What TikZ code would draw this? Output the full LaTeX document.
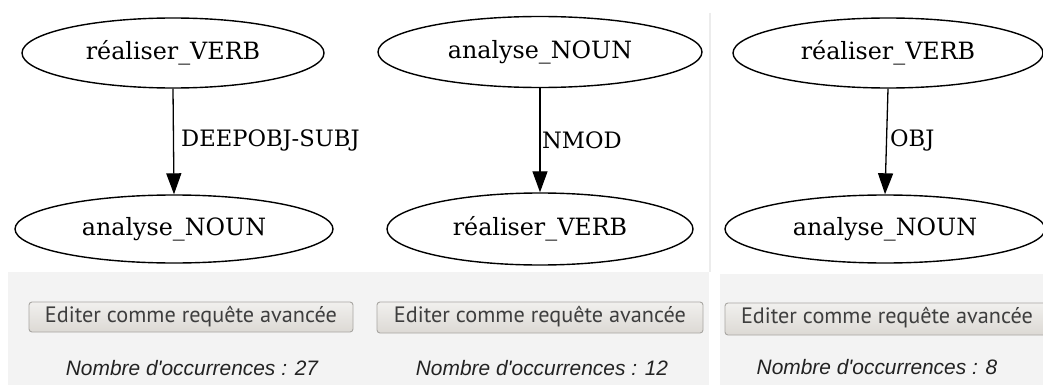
\documentclass[tikz,border=0pt]{standalone}
\usepackage{fontspec}
\setmainfont{DejaVu Serif}
\newfontfamily\uifont{PT Sans}
\newfontfamily\countfont{Liberation Sans}
\usetikzlibrary{shapes.geometric,arrows.meta}
\definecolor{panelgray}{HTML}{F3F3F3}
\definecolor{sepgray}{HTML}{ECECEC}
\definecolor{btnborder}{HTML}{A8A6A2}
\definecolor{btntop}{HTML}{F1F0EE}
\definecolor{btnbot}{HTML}{DCD9D4}
\definecolor{btntext}{HTML}{3E3E3E}
\definecolor{counttext}{HTML}{222222}
\tikzset{
  word/.style={ellipse, draw=black, line width=1.4pt, inner sep=0pt, font=\fontsize{23.8}{27}\selectfont},
  rel/.style={anchor=west, inner sep=0pt, font=\fontsize{22.6}{26}\selectfont},
  dep/.style={line width=1.3pt, -{Triangle[length=21pt,width=15pt]}, shorten >=0pt},
  btn/.style={draw=btnborder, line width=0.9pt, rounded corners=3pt, top color=btntop, bottom color=btnbot},
  btnlabel/.style={inner sep=0pt, text=btntext, font=\uifont\fontsize{21}{24}\selectfont},
  count/.style={inner sep=0pt, text=counttext, font=\countfont\itshape\fontsize{20.9}{24}\selectfont},
}
\begin{document}
\begin{tikzpicture}[x=1pt,y=-1pt]
\useasboundingbox (0,0) rectangle (1043,385);
\fill[white] (0,0) rectangle (1043,385);
% panel backgrounds
\fill[panelgray] (8,272) rectangle (709,385);
\fill[panelgray] (720,274) rectangle (1043,385);
\draw[sepgray, line width=1.6pt] (710,13) -- (710,272);
% panel 1
\node[word, minimum width=302pt, minimum height=70pt] (v1) at (173,53) {réaliser\_VERB};
\node[word, minimum width=318pt, minimum height=68pt] (n1) at (174,229) {analyse\_NOUN};
\draw[dep] (v1.south) -- (n1.north);
\node[rel] (l1) at (181,140) {DEEPOBJ-SUBJ};
% panel 2
\node[word, minimum width=324pt, minimum height=71pt] (n2) at (540,52) {analyse\_NOUN};
\node[word, minimum width=306pt, minimum height=72pt] (v2) at (540,229) {réaliser\_VERB};
\draw[dep] (n2.south) -- (v2.north);
\node[rel] (l2) at (542,140) {NMOD};
% panel 3
\node[word, minimum width=310pt, minimum height=70pt] (v3) at (888,53) {réaliser\_VERB};
\node[word, minimum width=320pt, minimum height=68pt] (n3) at (885,229) {analyse\_NOUN};
\draw[dep] (v3.south) -- (n3.north);
\node[rel] (l3) at (890,140) {OBJ};
% buttons
\draw[btn] (29,302) rectangle (353,332);
\node[btnlabel] (b1) at (191,317) {\resizebox{292pt}{!}{Editer comme requête avancée}};
\draw[btn] (377,302) rectangle (703,333);
\node[btnlabel] (b2) at (540,317) {\resizebox{292pt}{!}{Editer comme requête avancée}};
\draw[btn] (725,303) rectangle (1052,335);
\node[btnlabel] (b3) at (887,318) {\resizebox{292pt}{!}{Editer comme requête avancée}};
% counts
\node[count] (c1) at (192,368) {Nombre d'occurrences : 27};
\node[count] (c2) at (542,368) {Nombre d'occurrences : 12};
\node[count] (c3) at (877,367) {Nombre d'occurrences : 8};
\end{tikzpicture}
\end{document}
